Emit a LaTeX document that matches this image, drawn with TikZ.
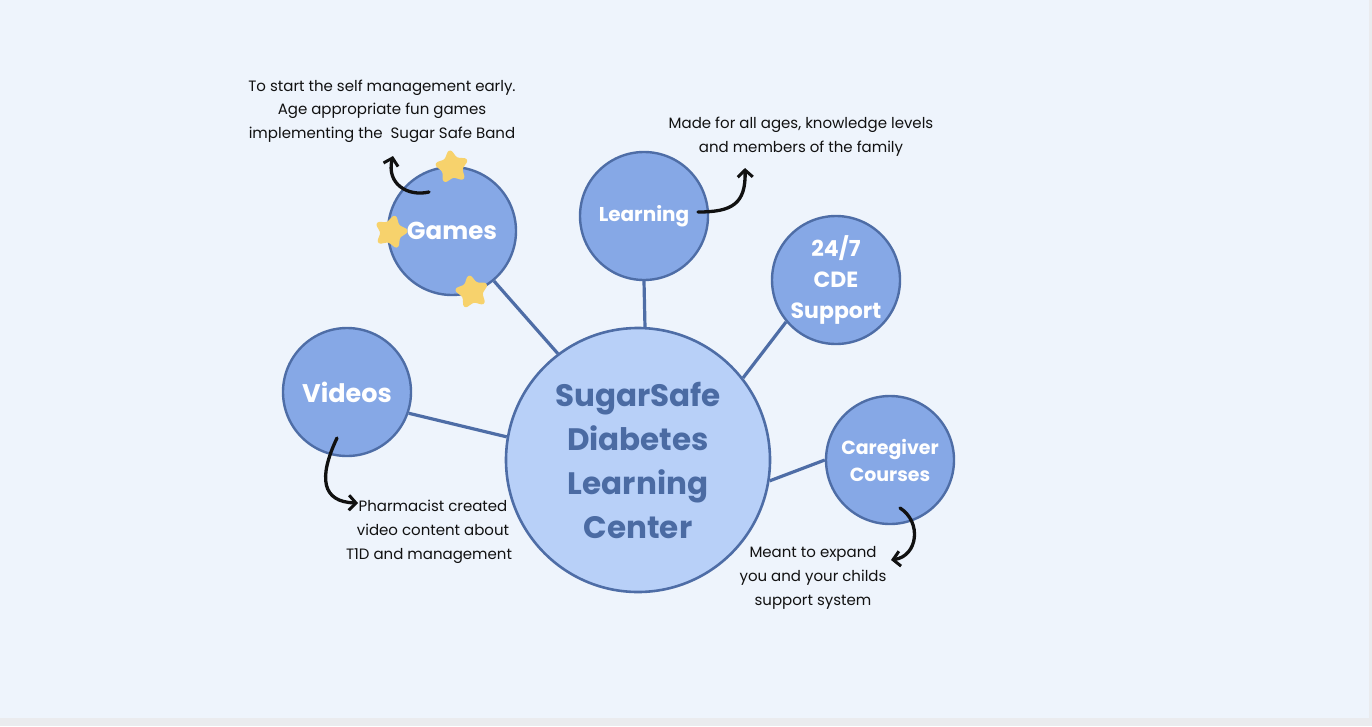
\documentclass[tikz,border=0pt]{standalone}
\usepackage{fontspec}
\setmainfont{Poppins}
\usetikzlibrary{shapes.geometric,arrows.meta}
\definecolor{bgcol}{HTML}{EEF4FC}
\definecolor{edgecol}{HTML}{EAEBEE}
\definecolor{smallfill}{HTML}{86A8E6}
\definecolor{bigfill}{HTML}{B8D0F8}
\definecolor{linecol}{HTML}{4E6DA6}
\definecolor{centertext}{HTML}{4B6BA3}
\definecolor{starcol}{HTML}{F7D26C}
\definecolor{inkcol}{HTML}{111111}
\tikzset{
  smallcircle/.style={circle, fill=smallfill, draw=linecol, line width=2.4pt, minimum size=128pt, inner sep=0pt, text=white, align=center},
  bigcircle/.style={circle, fill=bigfill, draw=linecol, line width=2.6pt, minimum size=264pt, inner sep=0pt, text=centertext, align=center},
  spoke/.style={draw=linecol, line width=3.2pt},
  note/.style={font=\fontsize{15}{23.7}\selectfont, text=inkcol, align=center, inner sep=0pt},
  inkarrow/.style={draw=inkcol, line width=3.3pt, line cap=round, -{Straight Barb[length=7pt,width=15pt,line width=3pt]}},
  starnode/.style={star, star points=5, star point ratio=1.85, fill=starcol, draw=starcol, line width=3pt, line join=round, rounded corners=2.5pt, minimum size=33pt, inner sep=0pt}
}
\begin{document}
\begin{tikzpicture}[x=1pt,y=-1pt]
\fill[edgecol] (0,0) rectangle (1372,726);
\fill[bgcol] (0,0) rectangle (1369,718);
\useasboundingbox (0,0) rectangle (1372,726);

% circles
\node[bigcircle, font=\fontsize{31}{44}\selectfont\bfseries] (center) at (638,460) {SugarSafe\\Diabetes\\Learning\\Center};
\node[smallcircle, font=\fontsize{24.5}{30}\selectfont\bfseries] (games) at (452,231) {Games};
\node[smallcircle, font=\fontsize{20}{24}\selectfont\bfseries] (learning) at (644,216) {Learning};
\node[smallcircle, font=\fontsize{22}{31}\selectfont\bfseries] (cde) at (836,280) {24/7\\CDE\\Support};
\node[smallcircle, font=\fontsize{25.5}{30}\selectfont\bfseries] (videos) at (347,392) {Videos};
\node[smallcircle, font=\fontsize{19}{27}\selectfont\bfseries] (care) at (890,460) {Caregiver\\Courses};

% spokes
\draw[spoke] (games.-50) -- (center.127);
\draw[spoke] (learning.270) -- (center.87.5);
\draw[spoke] (cde.220) -- (center.38);
\draw[spoke] (videos.-19) -- (center.170);
\draw[spoke] (care.180) -- (center.-9.5);

% stars
\node[starnode, rotate=8] (star1) at (452,167) {};
\node[starnode, rotate=-14] (star2) at (391,232) {};
\node[starnode, rotate=10] (star3) at (472,292) {};

% notes
\node[note] (gamesnote) at (382,111) {To start the self management early.\\Age appropriate fun games\\implementing the \ Sugar Safe Band};
\node[note] (learnnote) at (801,137) {Made for all ages, knowledge levels\\and members of the family};
\node[note] (videonote) at (429,532) {\ \ Pharmacist created\\\ \ video content about\\T1D and management};
\node[note] (carenote) at (813,578) {Meant to expand\\you and your childs\\support system};

% ink arrows
\coordinate (ga0) at (429,192);
\coordinate (ga1) at (393,156);
\coordinate (la0) at (698,212);
\coordinate (la1) at (745,168);
\coordinate (va0) at (337,438);
\coordinate (va1) at (358,503);
\coordinate (ca0) at (900,508);
\coordinate (ca1) at (891,560);
\draw[inkarrow] (ga0) .. controls (408,197) and (386,184) .. (ga1);
\draw[inkarrow] (la0) .. controls (732,212) and (746,204) .. (la1);
\draw[inkarrow] (va0) .. controls (318,478) and (322,502) .. (va1);
\draw[inkarrow] (ca0) .. controls (922,522) and (918,556) .. (ca1);
\end{tikzpicture}
\end{document}
